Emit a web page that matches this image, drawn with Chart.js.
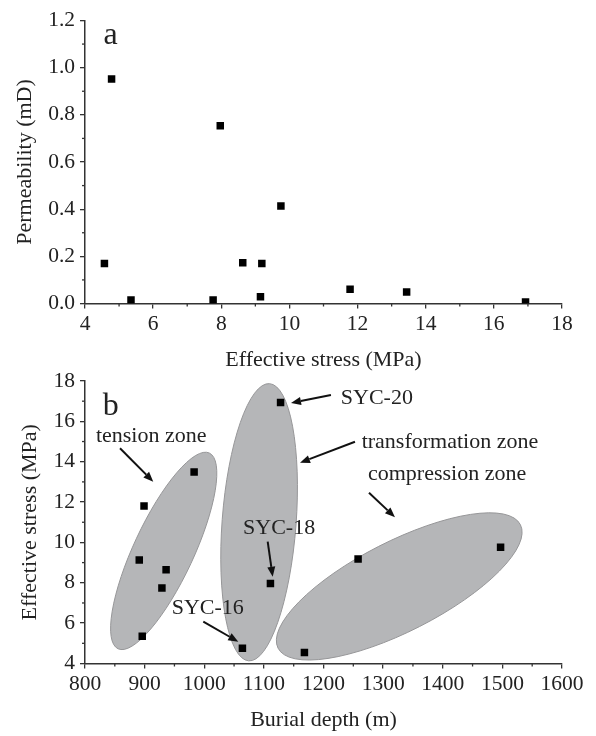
<!DOCTYPE html>
<html>
<head>
<meta charset="utf-8">
<script src="https://cdn.jsdelivr.net/npm/chart.js@4.4.1/dist/chart.umd.min.js"></script>
<style>
  body { margin: 0; background: #fff; }
  #wrap { position: relative; width: 596px; height: 736px; }
  canvas { position: absolute; left: 0; }
  #chartA { top: 0; }
  #chartB { top: 360px; }
</style>
</head>
<body>
<div id="wrap">
  <canvas id="chartA" width="596" height="380"></canvas>
  <canvas id="chartB" width="596" height="376"></canvas>
</div>
<script>
// panel a: permeability vs effective stress
const stressA = [4.57, 4.78, 5.35, 7.76, 7.97, 8.63, 9.15, 9.19, 9.75, 11.78, 13.44, 16.93];
const permA   = [0.170, 0.952, 0.015, 0.015, 0.754, 0.173, 0.029, 0.170, 0.413, 0.060, 0.049, 0.006];

// panel b: effective stress vs burial depth
const depthB  = [891, 899, 896, 929, 936, 983, 1064, 1111, 1128, 1168, 1258, 1497];
const stressB = [9.13, 11.81, 5.35, 7.74, 8.65, 13.49, 4.75, 7.97, 16.94, 4.54, 9.18, 9.76];

const xTicksA = [4, 6, 8, 10, 12, 14, 16, 18];
const yTicksA = [0.0, 0.2, 0.4, 0.6, 0.8, 1.0, 1.2];
const xMinorA = [5, 7, 9, 11, 13, 15, 17];
const yMinorA = [0.1, 0.3, 0.5, 0.7, 0.9, 1.1];

const xTicksB = [800, 900, 1000, 1100, 1200, 1300, 1400, 1500, 1600];
const yTicksB = [4, 6, 8, 10, 12, 14, 16, 18];
const xMinorB = [850, 950, 1050, 1150, 1250, 1350, 1450, 1550];
const yMinorB = [5, 7, 9, 11, 13, 15, 17];

const serif = "'Liberation Serif', 'Times New Roman', serif";
const axisColor = '#333';
const textColor = '#222';

// zones and labels of panel b, placed in data units
const zonesB = [
  { x: 932, y: 9.58, rx: 30, ry: 108, rot: 25 },
  { x: 1092, y: 11.0, rx: 37, ry: 139, rot: 4.3 },
  { x: 1327, y: 7.82, rx: 136, ry: 45, rot: -27 }
];
const notesB = [
  { text: 'b', x: 843, y: 16.73, align: 'center', size: 32 },
  { text: 'tension zone', x: 911, y: 15.24, align: 'center', from: [858.7, 14.67], to: [914.5, 13.01] },
  { text: 'SYC-20', x: 1229, y: 17.16, align: 'left', from: [1212.5, 17.31], to: [1145.5, 16.91] },
  { text: 'transformation zone', x: 1264, y: 14.99, align: 'left', from: [1252.8, 14.99], to: [1160.6, 13.95] },
  { text: 'compression zone', x: 1274.6, y: 13.39, align: 'left', from: [1276.3, 12.46], to: [1319.9, 11.25] },
  { text: 'SYC-18', x: 1065, y: 10.72, align: 'left', from: [1106.4, 10.04], to: [1114.8, 8.30] },
  { text: 'SYC-16', x: 945.4, y: 6.75, align: 'left', from: [998.4, 6.07], to: [1057.1, 5.08] }
];
const notesA = [
  { text: 'a', x: 4.754, y: 1.138, align: 'center', size: 32 }
];

function makeNotes(zones, notes, minorX, minorY) {
  return {
    id: 'notes',
    beforeDatasetsDraw(chart) {
      const ctx = chart.ctx;
      const xs = chart.scales.x, ys = chart.scales.y;
      ctx.save();
      zones.forEach(z => {
        ctx.beginPath();
        ctx.ellipse(xs.getPixelForValue(z.x), ys.getPixelForValue(z.y), z.rx, z.ry, z.rot * Math.PI / 180, 0, Math.PI * 2);
        ctx.fillStyle = 'rgb(181,182,184)';
        ctx.fill();
        ctx.strokeStyle = 'rgb(150,150,152)';
        ctx.lineWidth = 1;
        ctx.stroke();
      });
      ctx.restore();
    },
    afterDraw(chart) {
      const ctx = chart.ctx;
      const xs = chart.scales.x, ys = chart.scales.y;
      ctx.save();
      // minor ticks
      ctx.strokeStyle = axisColor;
      ctx.lineWidth = 1.3;
      minorX.forEach(v => {
        const px = xs.getPixelForValue(v);
        ctx.beginPath(); ctx.moveTo(px, ys.bottom); ctx.lineTo(px, ys.bottom + 3); ctx.stroke();
      });
      minorY.forEach(v => {
        const py = ys.getPixelForValue(v);
        ctx.beginPath(); ctx.moveTo(xs.left, py); ctx.lineTo(xs.left - 3, py); ctx.stroke();
      });
      // labels and arrows
      notes.forEach(n => {
        ctx.fillStyle = textColor;
        ctx.font = (n.size || 22) + 'px ' + serif;
        ctx.textAlign = n.align;
        ctx.textBaseline = 'middle';
        ctx.fillText(n.text, xs.getPixelForValue(n.x), ys.getPixelForValue(n.y));
        if (n.from) {
          const x0 = xs.getPixelForValue(n.from[0]), y0 = ys.getPixelForValue(n.from[1]);
          const x1 = xs.getPixelForValue(n.to[0]), y1 = ys.getPixelForValue(n.to[1]);
          const ang = Math.atan2(y1 - y0, x1 - x0);
          const hl = 10, hw = 4;
          ctx.strokeStyle = '#111';
          ctx.lineWidth = 2;
          ctx.beginPath();
          ctx.moveTo(x0, y0);
          ctx.lineTo(x1 - hl * Math.cos(ang), y1 - hl * Math.sin(ang));
          ctx.stroke();
          ctx.fillStyle = '#111';
          ctx.beginPath();
          ctx.moveTo(x1, y1);
          ctx.lineTo(x1 - hl * Math.cos(ang) + hw * Math.sin(ang), y1 - hl * Math.sin(ang) - hw * Math.cos(ang));
          ctx.lineTo(x1 - hl * Math.cos(ang) - hw * Math.sin(ang), y1 - hl * Math.sin(ang) + hw * Math.cos(ang));
          ctx.closePath();
          ctx.fill();
        }
      });
      ctx.restore();
    }
  };
}

function xAxis(min, max, ticks, title, height, titlePad) {
  return {
    type: 'linear', min: min, max: max,
    afterBuildTicks: s => { s.ticks = ticks.map(v => ({ value: v })); },
    afterFit: s => { s.height = height; },
    grid: { display: true, drawOnChartArea: false, tickLength: 5, color: axisColor, lineWidth: 1.3 },
    border: { display: true, color: axisColor, width: 1.5 },
    ticks: { color: textColor, font: { family: serif, size: 21.5 }, padding: 3, maxRotation: 0, autoSkip: false,
      callback: v => String(v) },
    title: { display: true, text: title, color: textColor, font: { family: serif, size: 22 }, padding: { top: 0, bottom: titlePad } }
  };
}

function yAxis(min, max, ticks, title, digits, titlePad) {
  return {
    type: 'linear', min: min, max: max,
    afterBuildTicks: s => { s.ticks = ticks.map(v => ({ value: v })); },
    afterFit: s => { s.width = 85; },
    grid: { display: true, drawOnChartArea: false, tickLength: 5, color: axisColor, lineWidth: 1.3 },
    border: { display: true, color: axisColor, width: 1.5 },
    ticks: { color: textColor, font: { family: serif, size: 21.5 }, padding: 5, autoSkip: false,
      callback: v => v.toFixed(digits) },
    title: { display: true, text: title, color: textColor, font: { family: serif, size: 22 }, padding: { top: titlePad, bottom: 0 } }
  };
}

function scatterData(xs, ys) {
  return {
    datasets: [{
      data: xs.map((x, i) => ({ x: x, y: ys[i] })),
      pointStyle: 'rect',
      pointRadius: 5.3,
      backgroundColor: '#000',
      borderColor: '#000',
      borderWidth: 0
    }]
  };
}

const configA = {
  type: 'scatter',
  data: scatterData(stressA, permA),
  options: {
    responsive: false,
    animation: false,
    layout: { padding: { top: 20.5, right: 34, left: 0, bottom: 0 } },
    plugins: { legend: { display: false }, tooltip: { enabled: false } },
    scales: {
      x: xAxis(4, 18, xTicksA, 'Effective stress (MPa)', 76.5, 6.8),
      y: yAxis(0, 1.2, yTicksA, 'Permeability (mD)', 1, 12)
    }
  },
  plugins: [makeNotes([], notesA, xMinorA, yMinorA)]
};

const configB = {
  type: 'scatter',
  data: scatterData(depthB, stressB),
  options: {
    responsive: false,
    animation: false,
    layout: { padding: { top: 21, right: 34, left: 0, bottom: 0 } },
    plugins: { legend: { display: false }, tooltip: { enabled: false } },
    scales: {
      x: xAxis(800, 1600, xTicksB, 'Burial depth (m)', 72.5, 2.8),
      y: yAxis(4, 18, yTicksB, 'Effective stress (MPa)', 0, 17)
    }
  },
  plugins: [makeNotes(zonesB, notesB, xMinorB, yMinorB)]
};

const chartA = new Chart(document.getElementById('chartA'), configA);
const chartB = new Chart(document.getElementById('chartB'), configB);
</script>
</body>
</html>
